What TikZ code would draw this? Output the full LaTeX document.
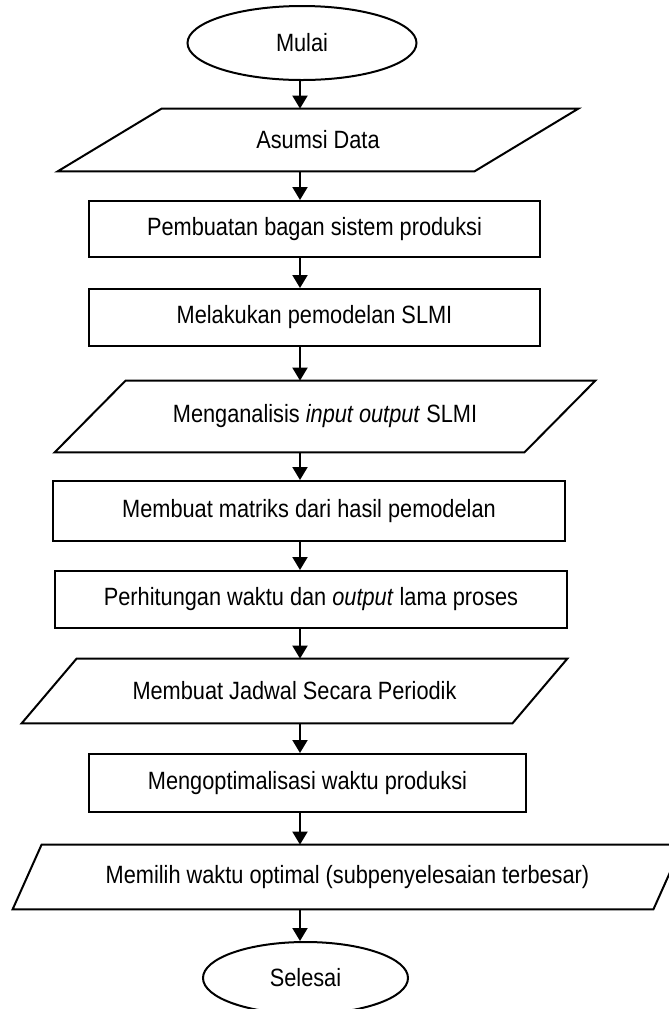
\documentclass[tikz,border=0pt]{standalone}
\usepackage{fontspec}
\setmainfont{Liberation Sans}[FakeStretch=0.87]
\usetikzlibrary{shapes.geometric,arrows.meta,positioning}

% jajaran genjang di sekeliling node #1, geser miring #2
\newcommand{\jajar}[2]{%
  \draw[line width=1pt] ([xshift=-#2]#1.south west) -- ([xshift=-#2]#1.south east)
    -- ([xshift=#2]#1.north east) -- ([xshift=#2]#1.north west) -- cycle;}

\begin{document}
\begin{tikzpicture}[x=0.5pt,y=-0.5pt,
  every node/.style={font=\fontsize{12.5}{15}\selectfont},
  terminal/.style={draw,ellipse,line width=1pt,inner sep=0pt},
  proses/.style={draw,rectangle,line width=1pt,inner sep=0pt},
  data/.style={rectangle,inner sep=0pt},
  panah/.style={line width=1pt,-{Triangle[length=6.5pt,width=7.5pt]}}]
  \useasboundingbox (0,0) rectangle (669,1009);
  \coordinate (poros) at (300,0);

  \node[terminal, minimum width=114.5pt, minimum height=37pt] (mulai) at (302,43) {Mulai};
  \node[data, minimum width=208pt, minimum height=31pt] (asumsi) at (318,140) {Asumsi Data};
  \node[proses, minimum width=225.5pt, minimum height=28pt] (bagan) at (314.5,229) {Pembuatan bagan sistem produksi};
  \node[proses, minimum width=225.5pt, minimum height=28.5pt] (model) at (314.5,317.5) {Melakukan pemodelan SLMI};
  \node[data, minimum width=234.5pt, minimum height=35.5pt] (analisis) at (325,416.5) {Menganalisis \textit{input output} SLMI};
  \node[proses, minimum width=256pt, minimum height=30pt] (matriks) at (309,511) {Membuat matriks dari hasil pemodelan};
  \node[proses, minimum width=256pt, minimum height=28.5pt] (hitung) at (311,599.5) {Perhitungan waktu dan \textit{output} lama proses};
  \node[data, minimum width=245pt, minimum height=32pt] (jadwal) at (294.5,691) {Membuat Jadwal Secara Periodik};
  \node[proses, minimum width=218.5pt, minimum height=29pt] (optimasi) at (307.5,783) {Mengoptimalisasi waktu produksi};
  \node[data, minimum width=320pt, minimum height=32pt] (memilih) at (347.5,877) {Memilih waktu optimal (subpenyelesaian terbesar)};
  \node[terminal, minimum width=102.5pt, minimum height=36pt] (selesai) at (305.5,978) {Selesai};

  \jajar{asumsi}{26pt}
  \jajar{analisis}{17.75pt}
  \jajar{jadwal}{13.75pt}
  \jajar{memilih}{7.25pt}

  \draw[panah] (poros |- mulai.south) -- (poros |- asumsi.north);
  \draw[panah] (poros |- asumsi.south) -- (poros |- bagan.north);
  \draw[panah] (poros |- bagan.south) -- (poros |- model.north);
  \draw[panah] (poros |- model.south) -- (poros |- analisis.north);
  \draw[panah] (poros |- analisis.south) -- (poros |- matriks.north);
  \draw[panah] (poros |- matriks.south) -- (poros |- hitung.north);
  \draw[panah] (poros |- hitung.south) -- (poros |- jadwal.north);
  \draw[panah] (poros |- jadwal.south) -- (poros |- optimasi.north);
  \draw[panah] (poros |- optimasi.south) -- (poros |- memilih.north);
  \draw[panah] (poros |- memilih.south) -- (poros |- selesai.north);
\end{tikzpicture}
\end{document}
